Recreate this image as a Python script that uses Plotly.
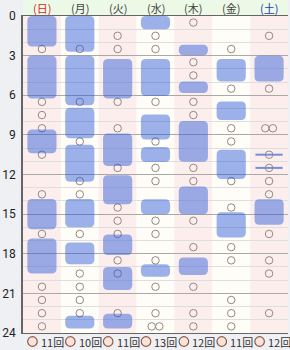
import plotly.graph_objects as go

# ---------------- data ----------------
days = ["(日)", "(月)", "(火)", "(水)", "(木)", "(金)", "(土)"]
day_colors = ["#d62a2a", "#444444", "#444444", "#444444", "#444444", "#444444", "#2a34b4"]

# sleep blocks (start hour, end hour) per day
blocks = [
    [(0.0, 2.3), (3.0, 6.25), (8.6, 10.4), (13.85, 16.15), (16.85, 19.5)],
    [(0.0, 2.7), (3.0, 6.75), (6.95, 9.25), (9.75, 12.55), (13.85, 16.0), (17.15, 18.8), (22.7, 23.65)],
    [(3.25, 6.25), (8.9, 11.35), (12.05, 14.25), (16.55, 18.1), (19.0, 20.75), (22.55, 23.65)],
    [(0.0, 1.0), (3.25, 6.05), (7.45, 9.35), (9.92, 11.05), (13.87, 15.0), (18.8, 19.75)],
    [(2.17, 2.98), (4.95, 5.83), (7.95, 11.03), (12.9, 15.0), (18.29, 19.6)],
    [(3.26, 4.95), (6.47, 7.88), (10.13, 12.35), (14.85, 16.77)],
    [(3.0, 4.95), (13.87, 15.8)],
]

# event circles (hour) per day
events = [
    [2.5, 6.5, 7.5, 8.5, 10.5, 13.5, 16.5, 20.5, 21.5, 22.5, 23.5],
    [2.5, 6.5, 9.5, 12.5, 13.5, 16.5, 19.5, 20.5, 21.5, 22.5],
    [1.5, 2.5, 6.5, 8.5, 11.5, 14.5, 15.5, 16.5, 18.5, 19.5, 22.5],
    [1.5, 2.5, 6.5, 9.5, 11.5, 12.5, 15.5, 16.5, 18.5, 20.5, 22.5, 23.5, 23.5],
    [0.5, 3.5, 4.5, 6.5, 7.5, 11.5, 12.5, 15.5, 17.5, 20.5, 22.5, 23.5],
    [2.5, 5.5, 8.5, 9.5, 12.5, 14.5, 17.5, 18.5, 21.5, 22.5, 23.5],
    [1.5, 5.5, 8.5, 8.5, 10.5, 11.5, 12.5, 13.5, 16.5, 18.5, 19.5, 22.5],
]

# short marks (day index, hour)
mark_day = [6, 6]
mark_hour = [10.5, 11.5]

counts = [11, 10, 11, 13, 12, 11, 12]
count_labels = [f"{c}回" for c in counts]

y_ticks = [0, 3, 6, 9, 12, 15, 18, 21, 24]

# ---------------- geometry ----------------
W, H = 290, 350
ML, MR, MT, MB = 21, 2, 16, 17
PW = W - ML - MR
PH = H - MT - MB
px_x = PW / 7.0      # pixels per column
px_y = PH / 24.0     # pixels per hour

half_w = 0.385
rad_px = 5.0

def rounded_path(x0, x1, y0, y1):
    rx = rad_px / px_x
    ry = min(rad_px / px_y, (y1 - y0) / 2)
    return (f"M {x0+rx},{y0} L {x1-rx},{y0} Q {x1},{y0} {x1},{y0+ry} "
            f"L {x1},{y1-ry} Q {x1},{y1} {x1-rx},{y1} L {x0+rx},{y1} "
            f"Q {x0},{y1} {x0},{y1-ry} L {x0},{y0+ry} Q {x0},{y0} {x0+rx},{y0} Z")

fig = go.Figure()
shapes = []
annotations = []

# column backgrounds
for i in range(7):
    shapes.append(dict(type="rect", xref="x", yref="y", x0=i - 0.5, x1=i + 0.5, y0=0, y1=24,
                       fillcolor="#fbeeed" if i % 2 == 0 else "#fffdf7",
                       line=dict(width=0), layer="below"))

# header band
shapes.append(dict(type="rect", xref="x", yref="paper", x0=-0.5, x1=6.5, y0=1, y1=1 + MT / PH,
                   fillcolor="#ebf9e6", line=dict(width=0), layer="below"))

# sleep blocks (semi-transparent, above circles)
for i, bl in enumerate(blocks):
    for (s, e) in bl:
        shapes.append(dict(type="path", xref="x", yref="y",
                           path=rounded_path(i - half_w, i + half_w, s, e),
                           fillcolor="rgba(35,85,215,0.45)", line=dict(width=0), layer="above"))

# event circles
cx, cy = [], []
for i, ev in enumerate(events):
    seen = {}
    for t in ev:
        seen[t] = seen.get(t, 0) + 1
    for t, n in seen.items():
        if n == 1:
            cx.append(i); cy.append(t)
        else:
            for k in range(n):
                cx.append(i + (k - (n - 1) / 2) * 0.2); cy.append(t)

# short marks lines
for d, t in zip(mark_day, mark_hour):
    fig.add_trace(go.Scatter(x=[d - 0.36, d + 0.36], y=[t, t], mode="lines",
                             line=dict(color="rgba(95,125,215,0.85)", width=2),
                             hoverinfo="skip", showlegend=False))

fig.add_trace(go.Scatter(x=cx, y=cy, mode="markers",
                         marker=dict(symbol="circle-open", size=7.5,
                                     color="#958884", line=dict(width=1.0, color="#958884")),
                         hoverinfo="skip", showlegend=False))

# bottom count legend (circle + label under each column)
leg_y = -8.5 / PH
r_px = 4.8
for i, lab in enumerate(count_labels):
    xc = i - 0.25
    shapes.append(dict(type="circle", xref="x", yref="paper",
                       x0=xc - r_px / px_x, x1=xc + r_px / px_x,
                       y0=leg_y - r_px / PH, y1=leg_y + r_px / PH,
                       fillcolor="#fde3d9", line=dict(color="#8c5a4a", width=1.2)))
    annotations.append(dict(x=xc + 6.5 / px_x, y=leg_y, xref="x", yref="paper",
                            text=lab, showarrow=False, xanchor="left", yanchor="middle",
                            font=dict(size=11, color="#333333", family="Noto Sans CJK JP")))

# header labels
for i, (d, c) in enumerate(zip(days, day_colors)):
    annotations.append(dict(x=i, y=1 + 7.5 / PH, xref="x", yref="paper",
                            text=d, showarrow=False, yanchor="middle",
                            font=dict(size=11, color=c, family="Noto Sans CJK JP")))

fig.update_layout(
    width=W, height=H,
    margin=dict(l=ML, r=MR, t=MT, b=MB, pad=0),
    paper_bgcolor="#eff0f4", plot_bgcolor="#fffdf7",
    shapes=shapes, annotations=annotations,
    showlegend=False,
    xaxis=dict(range=[-0.5, 6.5], showticklabels=False, showgrid=False, zeroline=False,
               showline=True, mirror=True, linecolor="#666666", linewidth=1.2, fixedrange=True),
    yaxis=dict(range=[24, 0], tickvals=y_ticks, ticktext=[str(v) for v in y_ticks],
               showgrid=True, gridcolor="#a9a9a9", gridwidth=1.3, zeroline=False,
               showline=True, linecolor="#666666", linewidth=1.5,
               tickfont=dict(size=12, color="#222222", family="Roboto"),
               ticks="", ticklabelstandoff=3,
               minor=dict(dtick=1, showgrid=True, gridcolor="#dedede", gridwidth=1),
               fixedrange=True),
)

fig.write_html("out.html")
